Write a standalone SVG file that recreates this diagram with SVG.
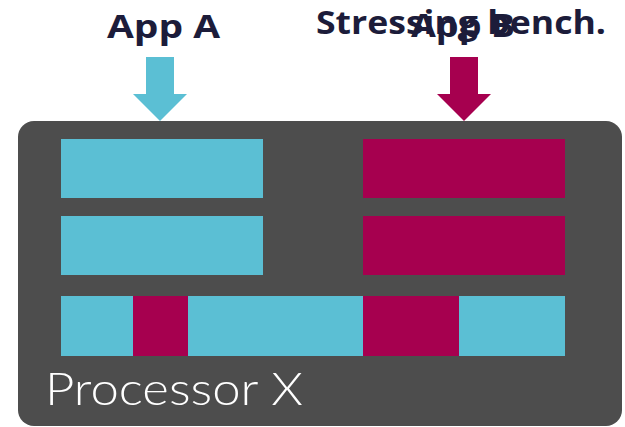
<svg xmlns="http://www.w3.org/2000/svg" width="625" height="427" viewBox="0 0 625 427">
  <style>
    .title { font-family: "Open Sans", "Liberation Sans", sans-serif; font-weight: 700; font-size: 33px; fill: #1c1c3a; }
    .label { font-family: Lato, "Open Sans", sans-serif; font-weight: 300; font-size: 46px; fill: #ffffff; }
    .a { fill: #5bbfd4; }
    .b { fill: #a6004f; }
  </style>

  <!-- processor body -->
  <g id="processor">
    <rect x="18" y="121" width="604" height="305" rx="16" fill="#4d4d4d"/>
    <text class="label" x="45" y="405" textLength="258" lengthAdjust="spacingAndGlyphs">Processor X</text>
  </g>

  <!-- allocated blocks -->
  <g id="row1">
    <rect class="a" x="61" y="139" width="202" height="59"/>
    <rect class="b" x="363" y="139" width="202" height="59"/>
  </g>
  <g id="row2">
    <rect class="a" x="61" y="216" width="202" height="59"/>
    <rect class="b" x="363" y="216" width="202" height="59"/>
  </g>
  <g id="row3">
    <rect class="a" x="61" y="296" width="72" height="60"/>
    <rect class="b" x="133" y="296" width="55" height="60"/>
    <rect class="a" x="188" y="296" width="175" height="60"/>
    <rect class="b" x="363" y="296" width="96" height="60"/>
    <rect class="a" x="459" y="296" width="106" height="60"/>
  </g>

  <!-- application labels -->
  <g id="appA">
    <text class="title" x="107" y="38" textLength="113" lengthAdjust="spacingAndGlyphs">App A</text>
  </g>
  <g id="appB">
    <text class="title" x="316" y="34" textLength="290" lengthAdjust="spacingAndGlyphs">Stressing bench.</text>
    <text class="title" x="411" y="37" textLength="104" lengthAdjust="spacingAndGlyphs">App B</text>
  </g>

  <!-- input arrows -->
  <g id="connectors">
    <polygon class="a" points="146,57 174,57 174,94 187,94 160,121 133,94 146,94"/>
    <polygon class="b" points="450,57 478,57 478,94 491,94 464,121 437,94 450,94"/>
  </g>
</svg>
